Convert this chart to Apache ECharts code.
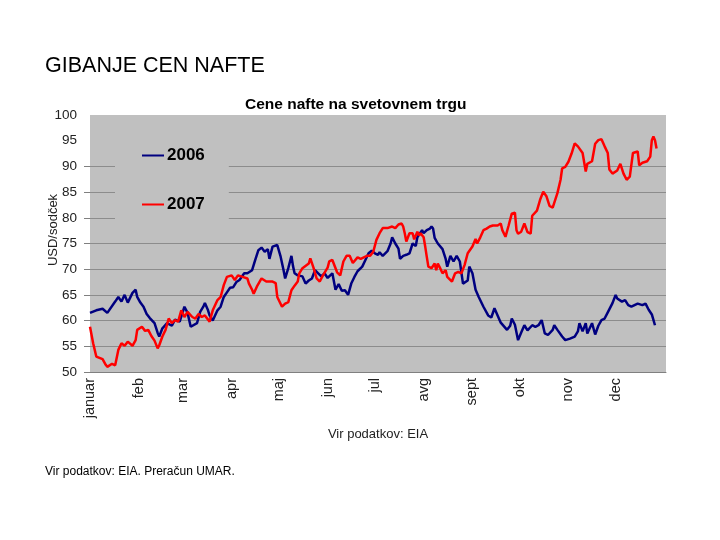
<!DOCTYPE html>
<html>
<head>
<meta charset="utf-8">
<script src="https://cdn.jsdelivr.net/npm/echarts@6/dist/echarts.min.js"></script>
<style>html,body{margin:0;padding:0;background:#fff;}#c{width:720px;height:540px;}</style>
</head>
<body>
<div id="c"></div>
<script>
const monthLabels = ['januar','feb','mar','apr','maj','jun','jul','avg','sept','okt','nov','dec'];
const monthStartDays = [0,31,59,90,120,151,181,212,243,273,304,334];
const seriesNames = ['2006','2007'];
const yTickValues = [50,55,60,65,70,75,80,85,90];

const days2006 = [0,4,8,11,16,18,20,22,24,27,29,30,32,34,36,38,41,43,44,46,49,52,54,57,60,62,64,65,68,70,72,73,75,76,78,81,83,85,87,89,91,93,95,98,100,103,105,107,109,111,113,114,116,119,121,123,124,126,128,129,130,132,135,137,139,141,143,145,147,149,151,154,156,158,160,162,164,166,168,170,173,175,177,179,181,183,184,186,189,191,192,194,196,197,199,201,203,205,207,208,211,212,214,216,217,218,219,221,224,226,227,229,231,233,235,237,240,241,243,245,247,250,253,255,257,259,261,262,265,267,268,270,272,274,276,278,281,283,285,287,289,291,294,295,297,300,302,305,308,310,311,313,315,316,319,321,323,325,327,329,332,334,335,338,340,342,344,346,348,351,353,355,357,359];
const usd2006 = [61.5,62,62.3,61.5,63.7,64.6,63.7,65,63.5,65.4,66,64.6,63.5,62.7,61.3,60.5,59.5,57.6,56.9,58.5,59.5,59,60.2,59.8,62.7,61.5,58.8,58.5,59.5,61.7,62.7,63.4,62,61,60,62,62.7,64.6,65.5,66.4,66.5,67.5,67.9,69.2,69.2,69.8,71.8,73.7,74.2,73.4,73.9,72,74.4,74.7,72.6,69.8,68.2,70.2,72.6,70.6,69.2,68.8,68.6,67.2,67.8,68.2,69.8,69.2,68.6,69.2,68.3,69.2,66,67.1,65.8,65.9,65,67.2,68.5,69.6,70.5,71.8,73.1,73.6,73.1,72.8,73.3,72.6,73.5,75,76.2,75,74,72,72.6,72.8,73.1,75,74.5,76.2,77.6,77,77.6,77.9,78.3,77.9,76.1,75,73.9,72,70.5,72.6,71.5,72.6,71.5,67.2,67.8,70.5,69.2,66,64.6,62.7,61,60.6,62.4,61,59.6,59.6,58.2,59,60.4,59.2,56.2,57.7,59.1,58.1,59.1,58.8,59.1,60.1,57.5,57.2,58.2,59.1,58.2,56.9,56.2,56.5,56.9,57.9,59.5,57.9,59.5,57.5,59.5,57.3,59,60.1,60.4,61.6,63.4,65,64.3,63.7,64,63,62.7,63,63.3,63,63.3,62.1,61.2,59.1];

const days2007 = [0,2,4,8,10,11,14,16,18,20,22,24,27,29,30,33,35,37,39,41,43,44,46,48,50,52,54,56,58,60,62,65,67,69,71,73,76,78,81,83,85,87,90,92,94,97,100,101,103,104,106,109,112,116,118,119,122,124,126,128,130,132,133,135,139,140,142,144,146,148,151,152,154,157,159,161,163,165,167,170,172,173,176,178,180,182,184,186,189,192,194,196,198,199,200,201,202,203,205,206,208,209,210,212,213,214,215,217,219,220,221,222,224,226,227,230,232,234,236,238,240,243,245,246,248,250,252,254,256,259,261,262,264,266,268,270,271,272,274,276,278,280,281,284,286,288,290,292,294,297,299,300,302,304,306,308,310,313,315,316,319,321,323,325,327,329,330,332,335,337,339,341,343,345,348,349,351,354,356,357,358,359,360];
const usd2007 = [58.8,55.6,53,52.5,51.4,51,51.6,51.3,54.3,55.6,55.1,55.9,55.1,56.2,58.2,58.8,58,58.2,57,56.1,54.6,55.2,56.9,58.2,60.4,59.5,60.1,59.8,62,60.7,61.7,60.7,60.4,61.3,60.7,61,59.8,62,64,64.6,66.9,68.5,68.8,67.9,68.8,68.5,68.2,67.2,66,65.2,66.6,68.2,67.6,67.6,67.3,64.6,62.7,63.3,63.6,65.9,66.8,67.6,69.2,70.2,71.1,72.1,70.3,68.2,67.6,68.8,70.3,71.5,71.8,69.4,68.8,71.5,72.6,72.6,71.2,72.3,72,72.3,72.6,72.6,73.4,75.7,77,78,78,78.3,78,78.7,78.9,78.3,77,75.4,75.1,77,77,75.8,77.3,76.6,77,76.2,74.4,72.4,70.5,70.2,71.1,69.8,71.1,70.5,69.2,69.8,68.5,67.6,69.2,69.5,69.2,70.8,73.1,74.4,75.9,75,76.2,77.6,77.9,78.3,78.5,78.5,78.9,77.6,76.3,78.5,80.8,81,77.6,76.9,77.3,78.9,77.2,76.9,80.4,81.4,83.5,85.1,84.2,82.3,82,84.8,87.4,89.6,89.9,90.9,92.5,94.5,93.9,92.6,89,90.5,91,94.4,95.1,95.3,93.9,92.6,89.4,88.6,89.2,90.5,88.6,87.4,88,92.6,92.9,90.2,90.7,91,91.9,95.1,95.8,95.1,93.5];

const zip = (xs, ys) => xs.map((x, i) => [x, ys[i]]);
const font = 'Liberation Sans, Arial, sans-serif';

const chart = echarts.init(document.getElementById('c'), null, {renderer: 'canvas'});
chart.setOption({
  backgroundColor: '#ffffff',
  animation: false,
  title: [
    {text: 'GIBANJE CEN NAFTE', left: 40, top: 50,
     textStyle: {fontFamily: font, fontSize: 21.5, fontWeight: 'normal', color: '#000'}},
    {text: 'Cene nafte na svetovnem trgu', left: 240, top: 92,
     textStyle: {fontFamily: font, fontSize: 15.5, fontWeight: 'bold', color: '#000'}},
    {text: 'Vir podatkov: EIA. Preračun UMAR.', left: 40, top: 461,
     textStyle: {fontFamily: font, fontSize: 12, fontWeight: 'normal', color: '#000'}}
  ],
  graphic: [
    {type: 'text', x: 53, y: 230, rotation: Math.PI / 2,
     style: {text: 'USD/sodček', fontFamily: font, fontSize: 13, fill: '#222', align: 'center', verticalAlign: 'middle'}}
  ],
  grid: {left: 90, right: 54, top: 115, bottom: 168, show: true, backgroundColor: '#c0c0c0', borderWidth: 0},
  legend: {
    orient: 'vertical', left: 115, top: 135,
    data: seriesNames,
    icon: 'rect', itemWidth: 22, itemHeight: 2, itemGap: 32,
    padding: [12, 24, 12, 27],
    backgroundColor: '#c0c0c0',
    textStyle: {fontFamily: font, fontSize: 17, fontWeight: 'bold', color: '#000', padding: [0, 0, 0, -2]}
  },
  xAxis: {
    type: 'value', min: 0, max: 366,
    name: 'Vir podatkov: EIA', nameLocation: 'middle', nameGap: 56,
    nameTextStyle: {fontFamily: font, fontSize: 13, color: '#222'},
    axisLine: {show: true, lineStyle: {color: '#808080', width: 1}},
    axisTick: {show: false},
    splitLine: {show: false},
    axisLabel: {
      customValues: monthStartDays,
      rotate: 90, margin: 6,
      fontFamily: font, fontSize: 14.5, color: '#222',
      formatter: v => monthLabels[monthStartDays.indexOf(v)] || ''
    }
  },
  yAxis: {
    type: 'value', min: 50, max: 100, interval: 5,
    axisLine: {show: false},
    axisTick: {show: true, length: 6, customValues: yTickValues, lineStyle: {color: '#808080'}},
    axisLabel: {fontFamily: font, fontSize: 13.5, color: '#222', margin: 13},
    splitLine: {show: true, lineStyle: {color: '#8c8c8c', width: 1}}
  },
  series: [
    {name: '2006', type: 'line', data: zip(days2006, usd2006), showSymbol: false, symbol: 'none',
     lineStyle: {color: '#000080', width: 2.5}, itemStyle: {color: '#000080'}, z: 3},
    {name: '2007', type: 'line', data: zip(days2007, usd2007), showSymbol: false, symbol: 'none',
     lineStyle: {color: '#ff0000', width: 2.5}, itemStyle: {color: '#ff0000'}, z: 4}
  ]
});
</script>
</body>
</html>
